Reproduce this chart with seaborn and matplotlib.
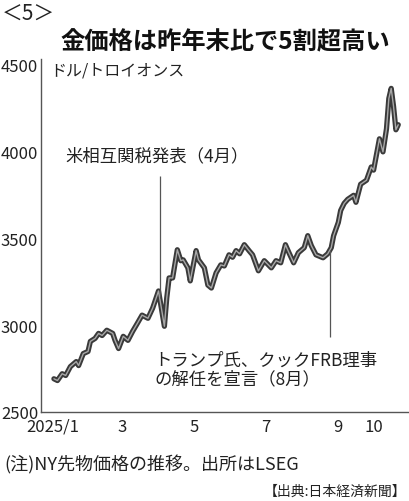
"""Gold futures price chart, 2025 (recreated from a newspaper graphic)."""

import matplotlib.dates as mdates
import matplotlib.pyplot as plt
import numpy as np
import pandas as pd
import seaborn as sns

sns.set_theme(style="white")
plt.rcParams["font.family"] = ["Noto Sans CJK JP", "DejaVu Sans"]

# values (USD per troy ounce)
dates = [
    "2025-01-02", "2025-01-05", "2025-01-09", "2025-01-12", "2025-01-16",
    "2025-01-21", "2025-01-23", "2025-01-27", "2025-01-31", "2025-02-02",
    "2025-02-06", "2025-02-09", "2025-02-12", "2025-02-16", "2025-02-21",
    "2025-02-23", "2025-02-26", "2025-03-02", "2025-03-06", "2025-03-10",
    "2025-03-14", "2025-03-18", "2025-03-23", "2025-03-27", "2025-04-01",
    "2025-04-06", "2025-04-08", "2025-04-10", "2025-04-13", "2025-04-17",
    "2025-04-20", "2025-04-22", "2025-04-26", "2025-04-28", "2025-05-03",
    "2025-05-05", "2025-05-10", "2025-05-13", "2025-05-16", "2025-05-20",
    "2025-05-24", "2025-05-27", "2025-05-31", "2025-06-03", "2025-06-06",
    "2025-06-09", "2025-06-13", "2025-06-17", "2025-06-20", "2025-06-25",
    "2025-06-30", "2025-07-06", "2025-07-10", "2025-07-14", "2025-07-18",
    "2025-07-21", "2025-07-25", "2025-07-29", "2025-08-03", "2025-08-06",
    "2025-08-09", "2025-08-13", "2025-08-19", "2025-08-23", "2025-08-26",
    "2025-08-28", "2025-09-01", "2025-09-03", "2025-09-06", "2025-09-09",
    "2025-09-14", "2025-09-16", "2025-09-20", "2025-09-25", "2025-09-29",
    "2025-10-01", "2025-10-06", "2025-10-09", "2025-10-12", "2025-10-14",
    "2025-10-16", "2025-10-18", "2025-10-20", "2025-10-22",
]
prices = [
    2691, 2681, 2720, 2710, 2761,
    2790, 2767, 2836, 2848, 2906,
    2923, 2952, 2940, 2970, 2952,
    2912, 2865, 2935, 2912, 2964,
    3010, 3057, 3039, 3097, 3196,
    2993, 3155, 3271, 3271, 3433,
    3370, 3375, 3329, 3254, 3428,
    3375, 3329, 3230, 3213, 3300,
    3346, 3340, 3404, 3390, 3428,
    3410, 3462, 3428, 3404, 3312,
    3370, 3329, 3370, 3358, 3462,
    3416, 3358, 3416, 3445, 3514,
    3457, 3404, 3387, 3410, 3445,
    3514, 3590, 3659, 3700, 3723,
    3746, 3706, 3810, 3833, 3909,
    3891, 4071, 3996, 4129, 4303,
    4361, 4257, 4123, 4152,
]

tick_dates = ["2025-01-01", "2025-03-01", "2025-05-01", "2025-07-01", "2025-09-01", "2025-10-01"]
tick_labels = ["2025/1", "3", "5", "7", "9", "10"]
y_ticks = [2500, 3000, 3500, 4000, 4500]

events = [
    ("2025-04-02", "米相互関税発表（4月）"),
    ("2025-08-25", "トランプ氏、クックFRB理事\nの解任を宣言（8月）"),
]

W, H = 410, 502
INK = "#333333"


def main() -> None:
    df = pd.DataFrame({"date": pd.to_datetime(dates), "price": prices})

    fig = plt.figure(figsize=(W / 100, H / 100), dpi=100)
    fig.patch.set_facecolor("white")
    ax = fig.add_axes([41 / W, 1 - 413 / H, 1 - 41 / W, (413 - 60) / H])

    # dark outline with a lighter core, like the printed double stroke
    sns.lineplot(data=df, x="date", y="price", ax=ax, color="#3a3a3a", lw=3.8)
    sns.lineplot(data=df, x="date", y="price", ax=ax, color="#a8a8a8", lw=1.0)

    ax.set_xlim(pd.Timestamp("2024-12-22"), pd.Timestamp("2025-11-01"))
    ax.set_ylim(2500, 4530)
    ax.set_xlabel("")
    ax.set_ylabel("")

    ax.set_xticks(pd.to_datetime(tick_dates))
    ax.set_xticklabels(tick_labels)
    ax.set_yticks(y_ticks)
    ax.set_yticklabels([str(v) for v in y_ticks])
    ax.tick_params(axis="both", direction="in", length=4, width=0.9, colors=INK,
                   labelsize=12, labelcolor="#222222")
    ax.tick_params(axis="y", pad=2)
    ax.tick_params(axis="x", pad=4)

    for side in ("top", "right"):
        ax.spines[side].set_visible(False)
    for side in ("left", "bottom"):
        ax.spines[side].set_color("#555555")
        ax.spines[side].set_linewidth(1.0)

    # leader lines from the series to each event label
    xnum = mdates.date2num(df["date"])
    first_day, first_text = events[0]
    d0 = mdates.date2num(pd.Timestamp(first_day))
    v0 = np.interp(d0, xnum, df["price"])
    ax.vlines(d0, v0, v0 + 700, color="#555555", lw=0.9)
    second_day, second_text = events[1]
    d1 = mdates.date2num(pd.Timestamp(second_day))
    v1 = np.interp(d1, xnum, df["price"])
    ax.vlines(d1, v1 - 500, v1, color="#555555", lw=0.9)

    fig.text(65 / W, 1 - 156 / H, first_text, fontsize=12.5, color="#222222",
             ha="left", va="center")
    fig.text(154 / W, 1 - 370 / H, second_text, fontsize=12.5, color="#222222",
             ha="left", va="center", linespacing=1.05)

    fig.text(50 / W, 1 - 71 / H, "ドル/トロイオンス", fontsize=11.5, color="#222222",
             ha="left", va="center")
    fig.text(2 / W, 1 - 14 / H, "＜5＞", fontsize=15, color="#222222",
             ha="left", va="center")
    fig.text(225 / W, 1 - 42 / H, "金価格は昨年末比で5割超高い", fontsize=17.5,
             fontweight="bold", color="#111111", ha="center", va="center")
    fig.text(4 / W, 1 - 465 / H, "(注)NY先物価格の推移。出所はLSEG", fontsize=13,
             color="#222222", ha="left", va="center")
    fig.text(406 / W, 1 - 492 / H, "【出典:日本経済新聞】", fontsize=10,
             color="#222222", ha="right", va="center")

    fig.savefig("out.png", dpi=100, facecolor="white")
    plt.close(fig)


if __name__ == "__main__":
    main()
